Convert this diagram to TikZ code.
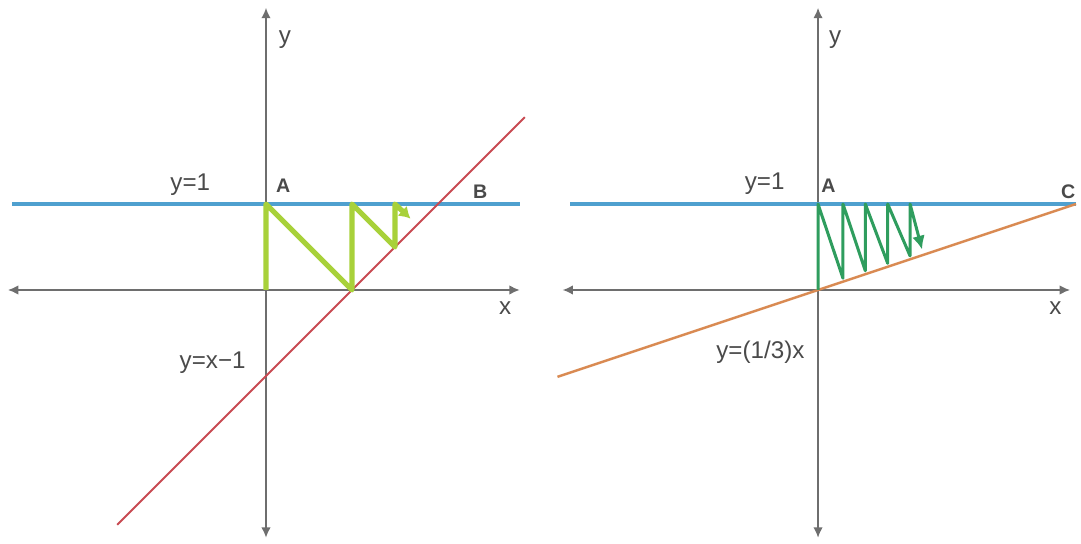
\documentclass[tikz,border=0pt]{standalone}
\usepackage{fontspec}
\setmainfont{Liberation Sans}
\usepackage{xcolor}
\usepackage{tikz}
\usetikzlibrary{arrows.meta, positioning}
\definecolor{axisgray}{HTML}{6E6E6E}
\definecolor{textgray}{HTML}{4A4A4A}
\definecolor{lineblue}{HTML}{4FA0CF}
\definecolor{linered}{HTML}{C84A52}
\definecolor{lineorange}{HTML}{D98A52}
\definecolor{limegreen}{HTML}{A8D13A}
\definecolor{darkgreen}{HTML}{2F9D5E}

\begin{document}
\begin{tikzpicture}[
    axis/.style={{Latex[length=1.2mm,width=1.1mm]}-{Latex[length=1.2mm,width=1.1mm]}, axisgray, line width=0.5pt},
    level/.style={lineblue, line width=1pt},
    lbl/.style={font=\fontsize{8}{9}\selectfont, textgray, inner sep=1pt},
    pt/.style={font=\fontsize{6.5}{8}\selectfont\bfseries, textgray, inner sep=1pt},
    zigA/.style={limegreen, line width=1.7pt, line join=round, -{Latex[length=1.3mm,width=1.6mm]}},
    zigC/.style={darkgreen, line width=1pt, line join=round, -{Latex[length=1.6mm,width=1.5mm]}}
]
\useasboundingbox (-3.093,-2.942) rectangle (9.477,3.372);

\coordinate (Lxl) at (-3.0,0); \coordinate (Lxr) at (2.95,0);
\coordinate (Lyb) at (0,-2.88); \coordinate (Lyt) at (0,3.28);
\coordinate (Lbl) at (-2.95,1); \coordinate (Lbr) at (2.95,1);
\coordinate (Lrl) at (-1.73,-2.73); \coordinate (Lrr) at (3.01,2.01);
\draw[axis] (Lxl)--(Lxr); \draw[axis] (Lyb)--(Lyt);
\draw[level] (Lbl)--(Lbr);
\draw[linered, line width=0.6pt] (Lrl)--(Lrr);
\coordinate (L0) at (0,0); \coordinate (L1) at (0,1); \coordinate (L2) at (1,0);
\coordinate (L3) at (1,1); \coordinate (L4) at (1.5,0.5); \coordinate (L5) at (1.5,1);
\coordinate (L6) at (1.68,0.83);
\draw[zigA] (L0)--(L1)--(L2)--(L3)--(L4)--(L5)--(L6);
\node[lbl] (ly) at (0.22,2.91) {y};
\node[lbl] (lx) at (2.78,-0.21) {x};
\node[lbl] (lone) at (-0.88,1.22) {y=1};
\node[pt] (lA) at (0.20,1.21) {A};
\node[pt] (lB) at (2.49,1.14) {B};
\node[lbl] (lred) at (-0.62,-0.84) {y=x−1};

\begin{scope}[xshift=6.419cm]
\coordinate (Rxl) at (-2.97,0); \coordinate (Rxr) at (2.93,0);
\coordinate (Ryb) at (0,-2.88); \coordinate (Ryt) at (0,3.28);
\coordinate (Rbl) at (-2.88,1); \coordinate (Rbr) at (3.0,1);
\coordinate (Rol) at (-3.03,-1.01); \coordinate (Ror) at (3.0,1.0);
\draw[axis] (Rxl)--(Rxr); \draw[axis] (Ryb)--(Ryt);
\draw[level] (Rbl)--(Rbr);
\draw[lineorange, line width=0.8pt] (Rol)--(Ror);
\coordinate (R0) at (0,0);
\foreach \b [count=\i] in {0.29, 0.55, 0.81, 1.07} {
  \coordinate (Rq\i) at (\b,\b/3+0.04);
  \coordinate (Rp\i) at (\b,1);
}
\coordinate (Rp0) at (0,1); \coordinate (Rend) at (1.21,0.47);
\draw[zigC] (R0)--(Rp0)--(Rq1)--(Rp1)--(Rq2)--(Rp2)--(Rq3)--(Rp3)--(Rq4)--(Rp4)--(Rend);
\node[lbl] (ry) at (0.2,2.91) {y};
\node[lbl] (rx) at (2.76,-0.21) {x};
\node[lbl] (rone) at (-0.62,1.24) {y=1};
\node[pt] (rA) at (0.12,1.21) {A};
\node[pt] (rC) at (2.91,1.14) {C};
\node[lbl] (rorange) at (-0.67,-0.72) {y=(1/3)x};
\end{scope}
\end{tikzpicture}
\end{document}
